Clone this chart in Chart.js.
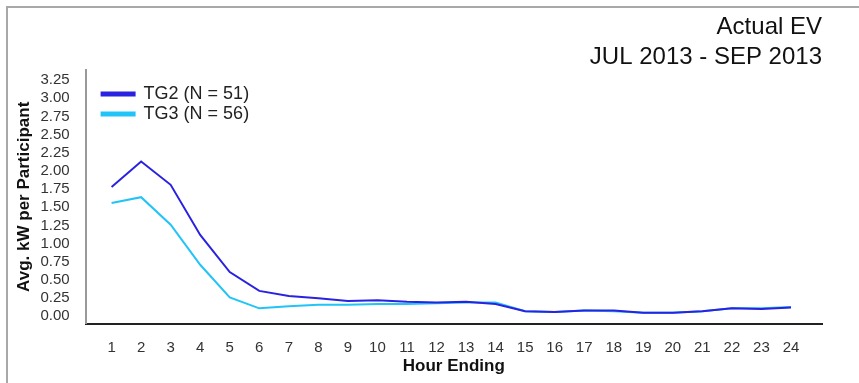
<!DOCTYPE html>
<html>
<head>
<meta charset="utf-8">
<script src="https://cdn.jsdelivr.net/npm/chart.js@4"></script>
<style>
  html, body { margin: 0; padding: 0; background: #fff; }
  #wrap { position: relative; width: 859px; height: 383px; }
  #frame {
    position: absolute; left: 6px; top: 6px; right: 0; bottom: 0;
    border-top: 2px solid #a8a8a8; border-left: 2px solid #a8a8a8;
    pointer-events: none;
  }
</style>
</head>
<body>
<div id="wrap">
  <canvas id="c" width="859" height="383"></canvas>
  <div id="frame"></div>
</div>
<script>
// hour ending 1..24
const hours = [1, 2, 3, 4, 5, 6, 7, 8, 9, 10, 11, 12, 13, 14, 15, 16, 17, 18, 19, 20, 21, 22, 23, 24];
const tg2 = [1.78, 2.13, 1.81, 1.12, 0.61, 0.35, 0.28, 0.25, 0.21, 0.22, 0.20, 0.19,
             0.20, 0.17, 0.07, 0.06, 0.08, 0.08, 0.05, 0.05, 0.07, 0.11, 0.10, 0.12];
const tg3 = [1.56, 1.64, 1.26, 0.71, 0.26, 0.11, 0.14, 0.16, 0.16, 0.17, 0.17, 0.18,
             0.19, 0.19, 0.07, 0.06, 0.08, 0.07, 0.05, 0.05, 0.07, 0.11, 0.11, 0.13];
const yTicks = [0, 0.25, 0.5, 0.75, 1, 1.25, 1.5, 1.75, 2, 2.25, 2.5, 2.75, 3, 3.25];
const seriesNames = ['TG2 (N = 51)', 'TG3 (N = 56)'];

const FONT = '"Liberation Sans", Arial, sans-serif';

// legend with position 'chartArea' gets its top reset to 0, put it back inside the plot
const legendInside = {
  id: 'legendInside',
  afterLayout(chart) {
    const lg = chart.legend;
    const h = lg.bottom - lg.top;
    lg.left = chart.chartArea.left + 14;
    lg.top = chart.chartArea.top + 13;
    lg.bottom = lg.top + h;
  }
};

const ctx = document.getElementById('c').getContext('2d');
new Chart(ctx, {
  type: 'line',
  data: {
    datasets: [{
      label: seriesNames[0],
      data: hours.map((h, i) => ({ x: h, y: tg2[i] })),
      borderColor: '#2a22e0',
      backgroundColor: '#2a22e0',
      borderWidth: 2,
      pointRadius: 0,
      tension: 0
    }, {
      label: seriesNames[1],
      data: hours.map((h, i) => ({ x: h, y: tg3[i] })),
      borderColor: '#22c4f8',
      backgroundColor: '#22c4f8',
      borderWidth: 2,
      pointRadius: 0,
      tension: 0
    }]
  },
  plugins: [legendInside],
  options: {
    responsive: false,
    animation: false,
    layout: { padding: { left: 10, right: 37, top: 0, bottom: 6 } },
    font: { family: FONT },
    scales: {
      x: {
        type: 'linear',
        min: 0.12,
        max: 25.05,
        afterBuildTicks: axis => { axis.ticks = hours.map(v => ({ value: v })); },
        ticks: { color: '#333', font: { size: 15, family: FONT }, padding: 15, maxRotation: 0, autoSkip: false },
        grid: { display: false, drawTicks: false },
        border: { display: true, color: '#222', width: 2 },
        title: { display: true, text: 'Hour Ending', color: '#111', font: { size: 17, weight: 'bold', family: FONT }, padding: { top: -15, bottom: 0 } }
      },
      y: {
        min: -0.1,
        max: 3.39,
        afterBuildTicks: axis => { axis.ticks = yTicks.map(v => ({ value: v })); },
        ticks: { color: '#333', font: { size: 15, family: FONT }, padding: 16, autoSkip: false, callback: v => v.toFixed(2) },
        grid: { display: false, drawTicks: false },
        border: { display: true, color: '#999', width: 2 },
        title: { display: true, text: 'Avg. kW per Participant', color: '#111', font: { size: 17, weight: 'bold', family: FONT }, padding: { top: 4, bottom: -10 } }
      }
    },
    plugins: {
      title: {
        display: true,
        text: ['Actual EV', 'JUL 2013 - SEP 2013'],
        align: 'end',
        color: '#111',
        font: { size: 24, weight: 'normal', family: FONT, lineHeight: 1.25 },
        padding: { top: 12, bottom: -2 }
      },
      legend: {
        position: 'chartArea',
        align: 'start',
        labels: {
          boxWidth: 33,
          boxHeight: 3,
          padding: 2,
          color: '#222',
          font: { size: 18, family: FONT }
        }
      },
      tooltip: { enabled: false }
    }
  }
});
</script>
</body>
</html>
